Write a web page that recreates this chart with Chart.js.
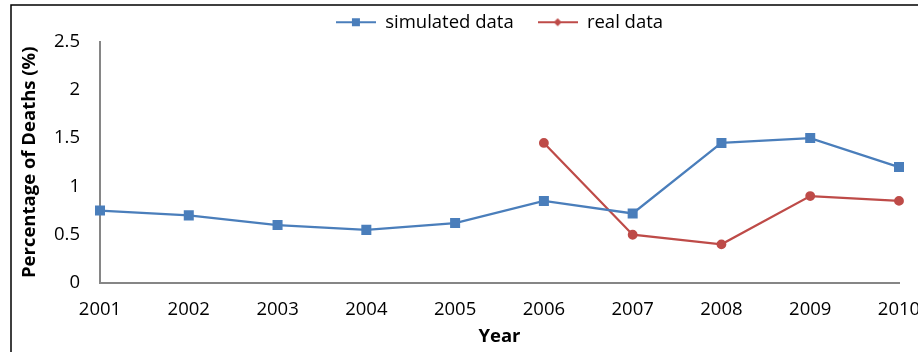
<!DOCTYPE html>
<html>
<head>
<meta charset="utf-8">
<script src="https://cdn.jsdelivr.net/npm/chart.js@4"></script>
<style>
  html, body { margin: 0; padding: 0; background: #fff; }
  #wrap { width: 918px; height: 352px; position: relative; }
</style>
</head>
<body>
<div id="wrap"><canvas id="c" width="918" height="352"></canvas></div>
<script>
const years = ['2001','2002','2003','2004','2005','2006','2007','2008','2009','2010'];
const simulated = [0.75, 0.70, 0.60, 0.55, 0.62, 0.85, 0.72, 1.45, 1.50, 1.20];
const real = [null, null, null, null, null, 1.45, 0.50, 0.40, 0.90, 0.85];
const seriesNames = ['simulated data', 'real data'];
const yTitle = 'Percentage of Deaths (%)';
const xTitle = 'Year';

const BLUE = '#4A7EBB';
const RED = '#BE4B48';
const FONT = "'Open Sans', 'DejaVu Sans', sans-serif";
const FS = 18.5;

function legendSymbol(color, shape) {
  const c = document.createElement('canvas');
  c.width = 40; c.height = 12;
  const g = c.getContext('2d');
  g.strokeStyle = color; g.lineWidth = 2;
  g.beginPath(); g.moveTo(0, 6); g.lineTo(40, 6); g.stroke();
  g.fillStyle = color;
  if (shape === 'square') {
    g.fillRect(16, 2, 8, 8);
  } else {
    g.beginPath(); g.moveTo(20, 2); g.lineTo(24, 6); g.lineTo(20, 10); g.lineTo(16, 6); g.closePath(); g.fill();
  }
  return c;
}
const symbols = [legendSymbol(BLUE, 'square'), legendSymbol(RED, 'diamond')];

const framePlugin = {
  id: 'frame',
  afterLayout(chart) {
    if (chart.legend) {
      chart.legend.left = chart.chartArea.left;
      chart.legend.right = chart.chartArea.right;
    }
  },
  afterDraw(chart) {
    const ctx = chart.ctx;
    ctx.save();
    ctx.strokeStyle = '#000';
    ctx.lineWidth = 1.5;
    ctx.beginPath();
    ctx.moveTo(11, 352);
    ctx.lineTo(11, 5);
    ctx.lineTo(918, 5);
    ctx.stroke();
    ctx.restore();
  }
};

new Chart(document.getElementById('c'), {
  type: 'line',
  data: {
    labels: years,
    datasets: [
      {
        label: seriesNames[0],
        data: simulated,
        borderColor: BLUE,
        backgroundColor: BLUE,
        borderWidth: 2.25,
        pointStyle: 'rect',
        pointRadius: 5.5,
        pointHoverRadius: 5.5,
        tension: 0
      },
      {
        label: seriesNames[1],
        data: real,
        borderColor: RED,
        backgroundColor: RED,
        borderWidth: 2.25,
        pointStyle: 'circle',
        pointRadius: 3.8,
        pointHoverRadius: 3.8,
        tension: 0,
        spanGaps: false
      }
    ]
  },
  options: {
    responsive: false,
    animation: false,
    devicePixelRatio: 1,
    layout: { padding: { top: -11, left: 0, right: 19, bottom: 4 } },
    plugins: {
      tooltip: { enabled: false },
      legend: {
        position: 'top',
        labels: {
          usePointStyle: true,
          pointStyleWidth: 40,
          padding: 24,
          color: '#000',
          font: { family: FONT, size: FS },
          generateLabels(chart) {
            return chart.data.datasets.map((ds, i) => ({
              text: ds.label,
              fillStyle: ds.borderColor,
              strokeStyle: ds.borderColor,
              lineWidth: 0,
              pointStyle: symbols[i],
              hidden: false,
              datasetIndex: i,
              fontColor: '#000'
            }));
          }
        }
      }
    },
    scales: {
      x: {
        offset: false,
        grid: { display: false, drawTicks: false },
        border: { display: true, color: '#868686', width: 2 },
        ticks: { color: '#000', font: { family: FONT, size: FS }, padding: 16, maxRotation: 0, autoSkip: false },
        title: { display: true, text: xTitle, color: '#000', font: { family: FONT, size: FS, weight: 'bold' }, padding: { top: 4, bottom: 0 } },
        afterFit(scale) { scale.paddingRight = 0; scale.paddingLeft = 0; scale.height = 65; }
      },
      y: {
        min: 0,
        max: 2.5,
        grid: { display: false, drawTicks: false },
        border: { display: true, color: '#868686', width: 2 },
        ticks: {
          stepSize: 0.5,
          color: '#000',
          font: { family: FONT, size: FS },
          padding: 20,
          callback: (v) => String(v)
        },
        title: { display: true, text: yTitle, color: '#000', font: { family: FONT, size: FS, weight: 'bold' }, padding: { top: 19, bottom: 0 } },
        afterFit(scale) { scale.width = 100; }
      }
    }
  },
  plugins: [framePlugin]
});
</script>
</body>
</html>
